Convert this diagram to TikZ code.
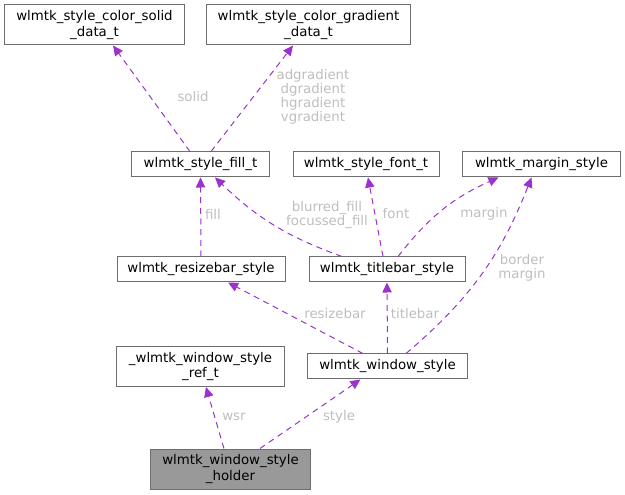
\documentclass[tikz,border=0pt]{standalone}
\usepackage{fontspec}
\setmainfont{DejaVu Sans}
\usetikzlibrary{arrows.meta}
\definecolor{edgecol}{HTML}{9A32CD}
\definecolor{boxcol}{HTML}{6E6E6E}
\definecolor{lblcol}{HTML}{BEBEBE}
\begin{document}
\begin{tikzpicture}[x=0.75pt,y=-0.75pt,
  font=\fontsize{10pt}{11.3pt}\selectfont,
  box/.style={draw=boxcol,line width=0.75pt,align=center,inner sep=1pt,minimum height=18.75pt},
  tall/.style={minimum height=30pt},
  rel/.style={draw=edgecol,line width=0.75pt,dash pattern=on 4.5pt off 3.5pt,
    -{Triangle[length=7.5pt,width=7pt]}},
  lbl/.style={text=lblcol,align=center,inner sep=0pt,font=\fontsize{10pt}{10.6pt}\selectfont}]
  \useasboundingbox (0,0) rectangle (625,495);

  \node[box,tall,minimum width=134.3pt] (solid) at (94.5,25) {wlmtk\_style\_color\_solid\\\_data\_t};
  \node[box,tall,minimum width=152.3pt] (grad) at (308.5,25) {wlmtk\_style\_color\_gradient\\\_data\_t};
  \node[box,minimum width=102.8pt] (fill) at (200.5,164.5) {wlmtk\_style\_fill\_t};
  \node[box,minimum width=109.5pt] (font) at (366,164.5) {wlmtk\_style\_font\_t};
  \node[box,minimum width=117.8pt] (margin) at (541.5,164.5) {wlmtk\_margin\_style};
  \node[box,minimum width=126pt] (rbar) at (201,269.5) {wlmtk\_resizebar\_style};
  \node[box,minimum width=117pt] (tbar) at (387,269.5) {wlmtk\_titlebar\_style};
  \node[box,tall,minimum width=125.3pt] (ref) at (200.5,366.5) {\_wlmtk\_window\_style\\\_ref\_t};
  \node[box,minimum width=119.3pt] (win) at (387.5,366.5) {wlmtk\_window\_style};
  \node[box,tall,fill=black!40,minimum width=119.3pt] (holder) at (230.5,469) {wlmtk\_window\_style\\\_holder};

  \draw[rel] ([xshift=-7.9pt]fill.north) -- ([xshift=13.9pt]solid.south);
  \draw[rel] ([xshift=7.9pt]fill.north) -- ([xshift=-11.6pt]grad.south);
  \draw[rel] (rbar.north) -- (fill.south);
  \draw[rel] ([xshift=-33.8pt]tbar.north) to[bend left=12] ([xshift=10.9pt]fill.south);
  \draw[rel] ([xshift=-3pt]tbar.north) -- ([xshift=1.5pt]font.south);
  \draw[rel] ([xshift=8.3pt]tbar.north) to[bend left=14] ([xshift=-32.3pt]margin.south);
  \draw[rel] ([xshift=13.9pt]win.north) to[bend right=14] ([xshift=-7.5pt]margin.south);
  \draw[rel] ([xshift=-18.4pt]win.north) -- ([xshift=20.3pt]rbar.south);
  \draw[rel] (win.north) -- (tbar.south);
  \draw[rel] ([xshift=-4.9pt]holder.north) -- ([xshift=4.1pt]ref.south);
  \draw[rel] ([xshift=22.1pt]holder.north) -- ([xshift=-20.3pt]win.south);

  \node[lbl] (l-solid) at (193,97) {solid};
  \node[lbl] (l-grad) at (313,97) {adgradient\\dgradient\\hgradient\\vgradient};
  \node[lbl] (l-fill) at (213,214) {fill};
  \node[lbl] (l-bf) at (327,215) {blurred\_fill\\focussed\_fill};
  \node[lbl] (l-font) at (396,214) {font};
  \node[lbl] (l-margin) at (484,214) {margin};
  \node[lbl] (l-border) at (522,268) {border\\margin};
  \node[lbl] (l-rbar) at (335,314) {resizebar};
  \node[lbl] (l-tbar) at (415,314) {titlebar};
  \node[lbl] (l-wsr) at (234,417) {wsr};
  \node[lbl] (l-style) at (339,417) {style};

\end{tikzpicture}
\end{document}
